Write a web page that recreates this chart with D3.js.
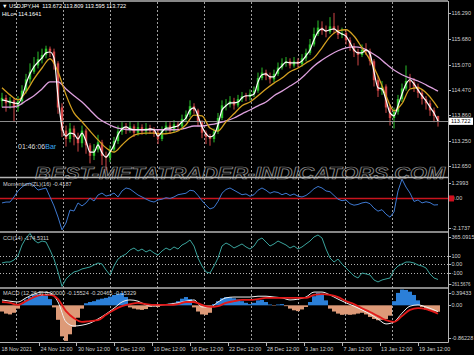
<!DOCTYPE html>
<html>
<head>
<meta charset="utf-8">
<script src="https://cdn.jsdelivr.net/npm/d3@7"></script>
<style>
  body { margin: 0; background: #000; }
  svg { display: block; font-family: "Liberation Sans", Arial, sans-serif; }
</style>
</head>
<body>
<script>
const width = 474;
const height = 355;

// USDJPY H4, one entry per slot (a few bars each), open = previous close
const firstOpen = 114.20;
const closes = [
  114.28,114.15,114.22,114.05,114.20,114.45,114.72,114.90,115.05,115.20,
  115.30,115.45,115.38,115.10,114.05,113.50,113.30,113.55,113.35,113.20,
  113.50,113.15,112.90,113.05,113.22,112.90,112.85,113.05,113.25,113.48,
  113.58,113.55,113.60,113.45,113.58,113.48,113.56,113.50,113.45,113.30,
  113.52,113.62,113.50,113.65,113.60,113.78,113.88,114.08,113.98,113.70,
  113.45,113.35,113.30,113.48,113.80,114.10,114.12,114.20,114.10,114.25,
  114.32,114.30,114.38,114.45,114.75,114.88,114.80,114.72,114.85,115.00,
  115.10,115.15,115.05,115.15,115.08,115.22,115.35,115.55,115.80,115.95,
  115.88,115.85,115.98,115.90,115.78,115.82,115.65,115.50,115.38,115.30,
  115.42,115.38,115.15,114.70,114.45,114.55,114.05,113.80,113.95,114.25,
  114.50,114.68,114.65,114.55,114.40,114.25,114.15,113.98,113.85,113.722
];
const highs = [
  114.40,114.35,114.30,114.28,114.32,114.58,114.85,115.10,115.25,115.38,
  115.45,115.52,115.50,115.45,115.15,114.15,113.62,113.68,113.62,113.45,
  113.62,113.55,113.20,113.18,113.40,113.28,113.00,113.15,113.35,113.62,
  113.70,113.68,113.72,113.65,113.70,113.65,113.68,113.64,113.58,113.52,
  113.60,113.72,113.70,113.75,113.72,113.88,113.98,114.22,114.15,114.02,
  113.75,113.50,113.42,113.55,113.92,114.22,114.25,114.32,114.28,114.35,
  114.42,114.40,114.48,114.55,114.88,115.00,114.95,114.88,114.95,115.12,
  115.22,115.25,115.22,115.25,115.22,115.32,115.45,115.68,115.95,116.12,
  116.10,116.00,116.20,116.30,116.00,115.95,115.88,115.72,115.58,115.45,
  115.55,115.58,115.45,115.20,114.80,114.68,114.60,114.12,114.05,114.35,
  114.62,115.05,114.85,114.75,114.62,114.48,114.32,114.22,114.05,113.809
];
const lows = [
  114.05,113.95,114.02,113.70,113.95,114.12,114.38,114.62,114.85,114.98,
  115.10,115.22,115.25,114.95,113.90,113.35,113.12,113.22,113.15,113.00,
  113.10,112.95,112.72,112.80,112.98,112.68,112.55,112.75,112.98,113.18,
  113.40,113.42,113.45,113.35,113.38,113.40,113.40,113.42,113.35,113.18,
  113.25,113.45,113.42,113.45,113.50,113.55,113.70,113.82,113.90,113.60,
  113.32,113.18,113.14,113.22,113.42,113.75,113.98,114.05,114.00,114.05,
  114.18,114.20,114.22,114.30,114.40,114.70,114.70,114.62,114.65,114.80,
  114.95,115.02,114.98,115.00,115.00,115.02,115.15,115.30,115.50,115.75,
  115.78,115.72,115.80,115.82,115.68,115.70,115.55,115.40,115.25,115.05,
  115.25,115.30,115.05,114.55,114.30,114.35,113.92,113.62,113.55,113.88,
  114.18,114.45,114.50,114.42,114.28,114.12,114.00,113.85,113.70,113.595
];

// moving averages: fast (white) on every slot, mid and slow on every second slot + last
const fastMa = [
  114.23,114.21,114.18,114.16,114.14,114.30,114.61,114.85,115.02,115.13,
  115.23,115.35,115.37,115.23,114.30,113.59,113.37,113.44,113.42,113.30,
  113.44,113.25,112.99,112.99,113.16,112.97,112.87,112.99,113.16,113.40,
  113.54,113.59,113.54,113.52,113.52,113.52,113.52,113.54,113.52,113.37,
  113.47,113.56,113.56,113.59,113.61,113.71,113.80,113.99,114.04,113.85,
  113.59,113.42,113.35,113.40,113.64,113.99,114.09,114.16,114.16,114.18,
  114.28,114.33,114.33,114.37,114.66,114.83,114.85,114.78,114.78,114.94,
  115.04,115.13,115.11,115.11,115.11,115.16,115.28,115.42,115.66,115.85,
  115.92,115.87,115.90,115.92,115.85,115.80,115.75,115.59,115.42,115.35,
  115.35,115.42,115.32,114.90,114.52,114.49,114.23,113.92,113.85,114.09,
  114.37,114.61,114.71,114.61,114.47,114.33,114.21,114.06,113.92,113.73
];
const midMa = [
  114.52,114.35,114.23,114.42,114.73,114.99,115.21,114.90,114.35,113.92,
  113.71,113.49,113.28,113.09,112.99,113.16,113.33,113.42,113.44,113.44,
  113.42,113.44,113.49,113.64,113.87,113.85,113.56,113.49,113.71,113.90,
  114.09,114.18,114.33,114.49,114.63,114.75,114.90,114.99,115.11,115.23,
  115.47,115.73,115.87,115.90,115.75,115.47,115.18,114.80,114.33,113.97,
  114.14,114.49,114.52,114.40,114.18,114.04
];
const slowMa = [
  114.06,114.06,114.09,114.21,114.33,114.49,114.66,114.66,114.49,114.33,
  114.18,113.99,113.80,113.68,113.59,113.54,113.52,113.52,113.52,113.52,
  113.52,113.52,113.52,113.56,113.61,113.61,113.64,113.68,113.73,113.80,
  113.90,113.99,114.09,114.18,114.33,114.44,114.56,114.68,114.85,115.04,
  115.18,115.30,115.40,115.47,115.49,115.47,115.37,115.25,115.09,114.94,
  114.83,114.75,114.68,114.59,114.49,114.44
];

// Momentum(ZL)(16)
const momentum = [
  -0.30,-0.24,-0.24,0.10,0.50,0.76,0.96,1.03,0.83,0.56,
  0.63,0.70,0.10,-0.50,-1.24,-2.10,-1.64,-0.77,-0.84,-0.30,
  -0.50,-0.30,0.03,-0.17,0.23,0.36,0.16,0.23,0.36,0.10,
  0.50,0.70,0.63,0.43,0.23,0.10,-0.04,-0.17,-0.24,-0.10,
  -0.05,0.05,0.00,0.10,0.25,0.30,0.35,0.55,0.50,0.20,
  -0.15,-0.45,-0.70,-0.60,-0.20,0.35,0.60,0.70,0.55,0.40,
  0.25,0.30,0.15,0.25,0.55,0.70,0.55,0.35,0.45,0.40,
  0.25,0.35,0.20,0.30,0.15,0.10,0.20,0.40,0.65,0.80,
  0.70,0.50,0.45,0.20,-0.05,-0.15,-0.10,-0.35,-0.45,-0.40,
  -0.30,-0.25,-0.35,-0.65,-0.85,-0.75,-1.05,-1.25,-0.90,0.50,
  1.29,0.76,0.36,-0.20,-0.10,-0.30,-0.22,-0.28,-0.44,-0.4187
];

// CCI(14)
const cci = [
  17,28,28,52,98,226,307,360,284,249,
  272,261,168,63,-87,-255,-168,-122,-87,-75,
  -52,-41,-29,-6,17,5,-64,-122,-18,63,
  98,121,168,191,156,179,145,168,133,110,
  156,191,168,203,179,226,249,284,214,75,
  -18,-87,-99,-18,75,214,249,226,191,214,
  238,203,179,214,284,307,261,214,238,272,
  249,226,191,214,179,203,238,272,319,342,
  307,179,75,28,63,5,-41,-87,-133,-157,
  -99,-110,-122,-180,-203,-180,-168,-157,-64,-18,
  5,28,28,17,-6,-18,-41,-110,-157,-174.53
];

// MACD(12,26,9): histogram every slot, lines every second slot + last
const macdHist = [
  -0.15,-0.20,-0.22,-0.18,-0.08,0.05,0.14,0.20,0.25,0.27,
  0.26,0.24,0.15,-0.05,-0.35,-0.75,-0.86,-0.70,-0.52,-0.30,
  -0.08,0.05,0.08,0.10,0.14,0.16,0.18,0.21,0.25,0.28,
  0.30,0.20,-0.05,-0.08,-0.10,-0.11,-0.09,-0.04,-0.02,-0.04,
  0.02,0.03,0.04,0.06,0.10,0.16,0.20,0.15,-0.05,-0.15,
  -0.22,-0.23,-0.18,0.03,0.10,0.17,0.20,0.19,0.17,0.14,
  0.10,0.06,0.03,0.06,0.12,0.13,0.08,0.02,-0.01,0.02,
  0.03,-0.02,-0.08,-0.12,-0.14,-0.10,-0.04,0.08,0.22,0.30,
  0.28,0.12,-0.08,-0.15,-0.20,-0.23,-0.22,-0.23,-0.22,-0.20,
  -0.18,-0.22,-0.28,-0.33,-0.36,-0.35,-0.33,-0.25,0.10,0.30,
  0.38,0.37,0.33,0.25,0.12,-0.04,-0.10,-0.13,-0.15,-0.15524
];
const macdMain = [
  0.13,0.10,0.08,0.18,0.27,0.32,0.30,0.08,-0.40,-0.50,
  -0.48,-0.43,-0.33,-0.21,-0.07,0.08,0.13,0.10,0.01,-0.02,
  0.01,0.03,0.06,0.10,0.13,-0.04,-0.04,0.08,0.18,0.20,
  0.20,0.20,0.22,0.22,0.20,0.18,0.13,0.15,0.20,0.32,
  0.32,0.25,0.15,0.06,-0.02,-0.11,-0.21,-0.33,-0.45,-0.40,
  -0.19,-0.02,0.01,-0.04,-0.11,-0.15339
];
const macdSignal = [
  0.08,0.06,0.01,0.10,0.20,0.25,0.25,0.15,-0.14,-0.31,
  -0.40,-0.38,-0.36,-0.23,-0.11,-0.02,0.03,0.06,0.03,0.01,
  0.01,0.01,0.03,0.08,0.08,0.01,-0.04,-0.02,0.06,0.10,
  0.13,0.13,0.15,0.18,0.18,0.18,0.18,0.18,0.18,0.25,
  0.27,0.25,0.20,0.10,0.03,-0.07,-0.16,-0.26,-0.36,-0.40,
  -0.26,-0.11,-0.07,-0.09,-0.16,-0.20465
];

// axis labels
const priceTicks = ["116.290", "115.680", "115.070", "114.470", "113.860", "113.250", "112.650"];
const bid = 113.722;
const momTicks = ["1.2993", "0.00", "-2.1737"];
const cciTicks = ["365.0915", "100", "0.00", "-100", "-261.5676"];
const cciLevels = [100, 0, -100];
const macdTicks = ["0.39433", "0.00", "-0.86228"];
const xTickLabels = ["18 Nov 2021", "24 Nov 12:00", "30 Nov 12:00", "6 Dec 12:00", "10 Dec 12:00",
  "16 Dec 12:00", "22 Dec 12:00", "28 Dec 12:00", "3 Jan 12:00", "7 Jan 12:00", "13 Jan 12:00", "19 Jan 12:00"];
const xTickSlots = [-0.5, 9.25, 18.6, 28.1, 37.5, 46.9, 56.4, 65.9, 75.4, 85, 94.4, 103.9];
const gridSlots = [3.5, 15.25, 27, 38.75, 50.5, 62.25, 74, 85.75, 97.5];

const plotRight = 448;
const axisBottom = 342;
const sparseSlots = d3.range(0, closes.length, 2).concat(closes.length - 1);

const x = d3.scaleLinear().domain([0, closes.length - 1]).range([2, 438]);

const panels = {
  main: { top: 2, bottom: 176 },
  mom: { top: 179, bottom: 231 },
  cci: { top: 233, bottom: 287 },
  macd: { top: 289, bottom: 341 }
};
const yPrice = d3.scaleLinear().domain([112.42, 116.56]).range([panels.main.bottom, panels.main.top]);
const yMom = d3.scaleLinear().domain([-2.1737, 1.2993]).range([panels.mom.bottom, panels.mom.top]);
const yCci = d3.scaleLinear().domain([-261.5676, 365.0915]).range([panels.cci.bottom, panels.cci.top]);
const yMacd = d3.scaleLinear().domain([-0.86228, 0.39433]).range([panels.macd.bottom, panels.macd.top]);

const svg = d3.select("body")
    .append("svg")
    .attr("width", width)
    .attr("height", height);

svg.append("rect").attr("width", width).attr("height", height).attr("fill", "#000");

// clip paths per panel
const defs = svg.append("defs");
Object.entries(panels).forEach(([k, p]) => {
  defs.append("clipPath").attr("id", "clip-" + k)
    .append("rect")
    .attr("x", 0).attr("y", p.top)
    .attr("width", plotRight).attr("height", p.bottom - p.top);
});

// vertical dotted grid
svg.append("g").selectAll("line")
  .data(gridSlots)
  .join("line")
  .attr("x1", d => Math.round(x(d)) + 0.5)
  .attr("x2", d => Math.round(x(d)) + 0.5)
  .attr("y1", 2)
  .attr("y2", axisBottom)
  .attr("stroke", "#a0a0a0")
  .attr("stroke-dasharray", "2,2");

// ---- main panel
const main = svg.append("g").attr("clip-path", "url(#clip-main)");

const bars = closes.map((c, i) => ({
  i, c, h: highs[i], l: lows[i], o: i ? closes[i - 1] : firstOpen
}));
const upColor = "#2bc02b";
const downColor = "#d04646";

main.append("g").selectAll("line")
  .data(bars)
  .join("line")
  .attr("x1", d => x(d.i))
  .attr("x2", d => x(d.i))
  .attr("y1", d => yPrice(d.h))
  .attr("y2", d => yPrice(d.l))
  .attr("stroke", d => d.c >= d.o ? upColor : downColor)
  .attr("stroke-width", 1);

main.append("g").selectAll("rect")
  .data(bars)
  .join("rect")
  .attr("x", d => x(d.i) - 1.2)
  .attr("width", 2.4)
  .attr("y", d => yPrice(Math.max(d.o, d.c)))
  .attr("height", d => Math.max(1, Math.abs(yPrice(d.o) - yPrice(d.c))))
  .attr("fill", d => d.c >= d.o ? upColor : downColor);

// bid line
main.append("line")
  .attr("x1", 0).attr("x2", plotRight)
  .attr("y1", Math.round(yPrice(bid)) + 0.5).attr("y2", Math.round(yPrice(bid)) + 0.5)
  .attr("stroke", "#8c8c8c");

const sparseLine = scale => d3.line()
  .x((d, k) => x(sparseSlots[k]))
  .y(d => scale(d))
  .curve(d3.curveMonotoneX);
const fullLine = scale => d3.line()
  .x((d, i) => x(i))
  .y(d => scale(d));

main.append("path").datum(slowMa)
  .attr("d", sparseLine(yPrice))
  .attr("fill", "none").attr("stroke", "#dda0dd").attr("stroke-width", 1.3);
main.append("path").datum(midMa)
  .attr("d", sparseLine(yPrice))
  .attr("fill", "none").attr("stroke", "#d4a020").attr("stroke-width", 1.3);
main.append("path").datum(fastMa)
  .attr("d", fullLine(yPrice).curve(d3.curveMonotoneX))
  .attr("fill", "none").attr("stroke", "#ffffff").attr("stroke-width", 1.2);

// ---- momentum
const mom = svg.append("g").attr("clip-path", "url(#clip-mom)");
mom.append("line")
  .attr("x1", 0).attr("x2", plotRight)
  .attr("y1", yMom(0)).attr("y2", yMom(0))
  .attr("stroke", "#c8141e").attr("stroke-width", 1.5);
mom.append("path").datum(momentum)
  .attr("d", fullLine(yMom))
  .attr("fill", "none").attr("stroke", "#3d78d0").attr("stroke-width", 1);

// ---- CCI
const cciG = svg.append("g").attr("clip-path", "url(#clip-cci)");
cciG.selectAll("line")
  .data(cciLevels)
  .join("line")
  .attr("x1", 0).attr("x2", plotRight)
  .attr("y1", d => Math.round(yCci(d)) + 0.5).attr("y2", d => Math.round(yCci(d)) + 0.5)
  .attr("stroke", "#b4b4b4").attr("stroke-dasharray", "1,2");
cciG.append("path").datum(cci)
  .attr("d", fullLine(yCci))
  .attr("fill", "none").attr("stroke", "#3aa39c").attr("stroke-width", 1);

// ---- MACD
const macd = svg.append("g").attr("clip-path", "url(#clip-macd)");
macd.append("g").selectAll("rect")
  .data(macdHist)
  .join("rect")
  .attr("x", (d, i) => x(i) - 2)
  .attr("width", 4)
  .attr("y", d => yMacd(Math.max(0, d)))
  .attr("height", d => Math.abs(yMacd(d) - yMacd(0)))
  .attr("fill", d => d >= 0 ? "#2b7fd8" : "#dd9a78");
macd.append("path").datum(macdMain)
  .attr("d", sparseLine(yMacd))
  .attr("fill", "none").attr("stroke", "#f0f0f0").attr("stroke-width", 1);
macd.append("path").datum(macdSignal)
  .attr("d", sparseLine(yMacd))
  .attr("fill", "none").attr("stroke", "#e31a1a").attr("stroke-width", 1.8);

// watermark
svg.append("text")
  .attr("x", 35)
  .attr("y", 179)
  .attr("textLength", 410)
  .attr("lengthAdjust", "spacingAndGlyphs")
  .attr("font-size", "16px")
  .attr("font-weight", "bold")
  .attr("font-style", "italic")
  .attr("fill", "none")
  .attr("stroke", "#8a8a8a")
  .attr("stroke-width", 0.7)
  .text("BEST-METATRADER-INDICATORS.COM");

// ---- frame and separators
const frame = svg.append("g").attr("stroke", "#b4b4b4").attr("fill", "none");
frame.append("line").attr("x1", 0).attr("x2", plotRight).attr("y1", 1).attr("y2", 1).attr("stroke-width", 1.5);
[177.5, 232, 288].forEach(y => {
  frame.append("line").attr("x1", 0).attr("x2", plotRight).attr("y1", y).attr("y2", y).attr("stroke-width", 1.6);
});
frame.append("line").attr("x1", 0).attr("x2", plotRight + 0.5).attr("y1", axisBottom + 0.5).attr("y2", axisBottom + 0.5);
frame.append("line").attr("x1", plotRight + 0.5).attr("x2", plotRight + 0.5).attr("y1", 1).attr("y2", axisBottom + 0.5);

// ---- right axis labels
const labelColor = "#d2d2d2";
function rightLabels(ticks, scale, p) {
  const g = svg.append("g");
  const yPos = t => Math.max(p.top + 4, Math.min(p.bottom - 3, scale(+t)));
  g.selectAll("line").data(ticks).join("line")
    .attr("x1", plotRight).attr("x2", plotRight + 3)
    .attr("y1", t => Math.round(yPos(t)) + 0.5).attr("y2", t => Math.round(yPos(t)) + 0.5)
    .attr("stroke", "#b4b4b4");
  g.selectAll("text").data(ticks).join("text")
    .attr("x", t => t.length > 8 ? plotRight + 2.5 : plotRight + 3.5)
    .attr("y", t => yPos(t))
    .attr("dy", "0.35em")
    .attr("font-size", t => t.length > 8 ? "5.1px" : "5.5px")
    .attr("fill", labelColor)
    .attr("textLength", t => t.length > 8 ? 20 : null)
    .attr("lengthAdjust", "spacingAndGlyphs")
    .text(t => t);
}
rightLabels(priceTicks, yPrice, panels.main);
rightLabels(momTicks, yMom, panels.mom);
rightLabels(cciTicks, yCci, panels.cci);
rightLabels(macdTicks, yMacd, panels.macd);

// bid price tag
svg.append("rect")
  .attr("x", plotRight + 1).attr("y", yPrice(bid) - 3.6)
  .attr("width", 24).attr("height", 7.2)
  .attr("fill", "#ffffff");
svg.append("text")
  .attr("x", plotRight + 3).attr("y", yPrice(bid))
  .attr("dy", "0.35em")
  .attr("font-size", "5.5px")
  .attr("fill", "#000")
  .text(bid.toFixed(3));

// momentum zero tag
svg.append("rect")
  .attr("x", plotRight + 1).attr("y", yMom(0) - 3)
  .attr("width", 5).attr("height", 6)
  .attr("fill", "#d01020");

// ---- x axis
const xa = svg.append("g");
xa.selectAll("line").data(xTickSlots.slice(1)).join("line")
  .attr("x1", d => Math.round(x(d)) + 0.5).attr("x2", d => Math.round(x(d)) + 0.5)
  .attr("y1", axisBottom).attr("y2", axisBottom + 4)
  .attr("stroke", "#b4b4b4");
xa.selectAll("text").data(xTickLabels).join("text")
  .attr("x", (d, i) => x(xTickSlots[i]) + 1.5)
  .attr("y", 351)
  .attr("font-size", "5.4px")
  .attr("fill", labelColor)
  .text(d => d);

// ---- panel titles
const small = (tx, ty, str, color) => svg.append("text")
  .attr("x", tx).attr("y", ty)
  .attr("font-size", "5.6px")
  .attr("fill", color || labelColor)
  .style("white-space", "pre")
  .text(str);

small(2, 8, "\u25BC USDJPY,H4  113.672 113.809 113.595 113.722", "#ffffff");
small(2, 15.5, "HiLo= 114.1641", "#ffffff");
small(3, 186, "Momentum(ZL)(16) -0.4187");
small(3, 240, "CCI(14) -174.5311");
small(3, 295, "MACD (12,26,9) 0.00000 -0.15524 -0.20465 -0.15329");

// bar timer
const timer = svg.append("text").attr("x", 18).attr("y", 148.5).attr("font-size", "7px");
timer.append("tspan").attr("fill", "#dcdcdc").text("01:46:06");
timer.append("tspan").attr("fill", "#3aa8f0").text("Bar");
</script>
</body>
</html>
